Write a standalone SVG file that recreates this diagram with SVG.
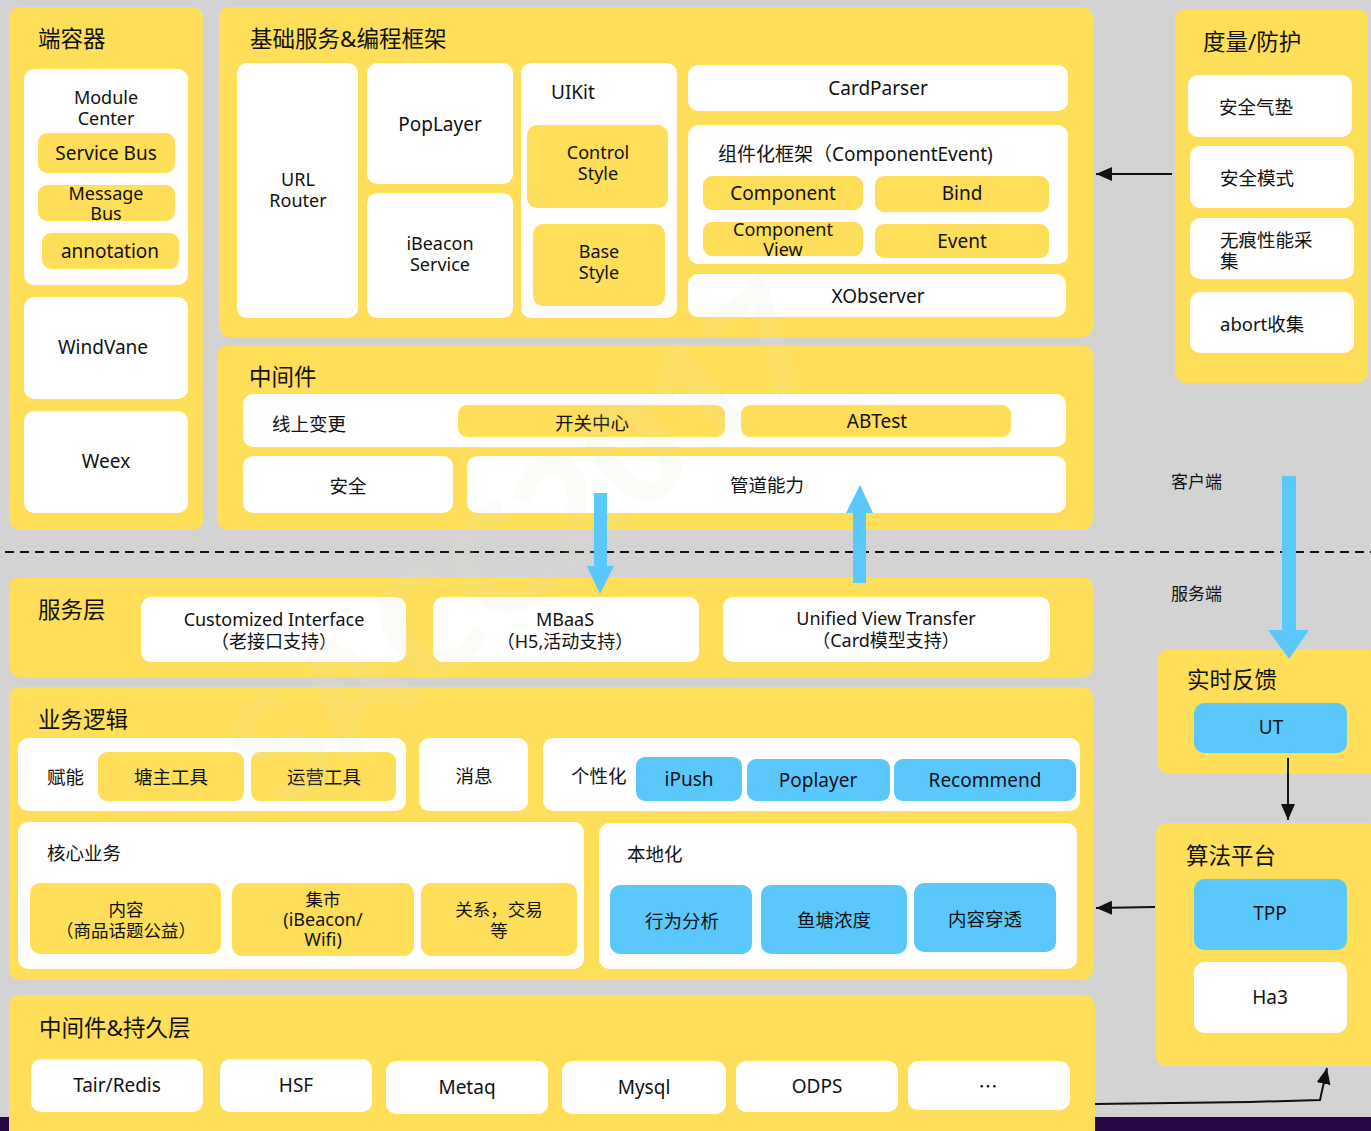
<svg xmlns="http://www.w3.org/2000/svg" width="1371" height="1131" viewBox="0 0 1371 1131">
<style>
.panel{fill:#ffde59}
.wb{fill:#ffffff}
.yb{fill:#ffde59}
.bb{fill:#5bc8fb}
text{font-family:"Noto Sans","Noto Sans CJK SC",sans-serif;fill:#111}
.ti{font-size:22.5px;dominant-baseline:central}
.l{font-size:19px;dominant-baseline:central;text-anchor:middle}
.l2{font-size:18px;dominant-baseline:central;text-anchor:middle}
.ls{font-size:19px;dominant-baseline:central}
.cn{font-size:18.5px;dominant-baseline:central;text-anchor:middle}
.cn2{font-size:17.5px;dominant-baseline:central;text-anchor:middle}
.cns{font-size:18.5px;dominant-baseline:central}
.conn{stroke:#111;stroke-width:2;fill:none}
.blue{fill:#5bc8fb}
</style>
<defs>
<marker id="ah" markerUnits="userSpaceOnUse" markerWidth="18" markerHeight="14" refX="16" refY="7" orient="auto">
<path d="M0,0 L16,7 L0,14 Z" fill="#111"/>
</marker>
</defs>
<rect x="0" y="0" width="1371" height="1131" fill="#d3d3d3"/>
<rect x="0" y="1117" width="1371" height="14" fill="#260741"/>
<line x1="5" y1="552" x2="1371" y2="552" stroke="#111" stroke-width="2" stroke-dasharray="9,6"/>

<g id="container">
<rect class="panel" x="9" y="7" width="194" height="523" rx="10"/>
<text class="ti" x="38" y="38">端容器</text>
<rect class="wb" x="24" y="69" width="164" height="216" rx="10"/>
<text class="l2" x="106" y="97">Module</text>
<text class="l2" x="106" y="118">Center</text>
<rect class="yb" x="38" y="133" width="137" height="40" rx="9"/>
<text class="l" x="106" y="153">Service Bus</text>
<rect class="yb" x="38" y="185" width="137" height="36" rx="9"/>
<text class="l2" x="106" y="193">Message</text>
<text class="l2" x="106" y="213">Bus</text>
<rect class="yb" x="42" y="233" width="137" height="36" rx="9"/>
<text class="l" x="110" y="251">annotation</text>
<rect class="wb" x="24" y="297" width="164" height="102" rx="10"/>
<text class="l" x="103" y="347">WindVane</text>
<rect class="wb" x="24" y="411" width="164" height="102" rx="10"/>
<text class="l" x="106" y="461">Weex</text>
</g>

<g id="framework">
<rect class="panel" x="219" y="7" width="874" height="330" rx="10"/>
<text class="ti" x="250" y="38">基础服务&amp;编程框架</text>
<rect class="wb" x="237" y="63" width="121" height="255" rx="10"/>
<text class="l2" x="298" y="179">URL</text>
<text class="l2" x="298" y="200">Router</text>
<rect class="wb" x="367" y="63" width="146" height="121" rx="10"/>
<text class="l" x="440" y="124">PopLayer</text>
<rect class="wb" x="367" y="193" width="146" height="125" rx="10"/>
<text class="l2" x="440" y="243">iBeacon</text>
<text class="l2" x="440" y="264">Service</text>
<rect class="wb" x="521" y="63" width="156" height="255" rx="10"/>
<text class="ls" x="551" y="92">UIKit</text>
<rect class="yb" x="527" y="125" width="141" height="83" rx="10"/>
<text class="l2" x="598" y="152">Control</text>
<text class="l2" x="598" y="173">Style</text>
<rect class="yb" x="533" y="224" width="132" height="82" rx="10"/>
<text class="l2" x="599" y="251">Base</text>
<text class="l2" x="599" y="272">Style</text>
<rect class="wb" x="688" y="65" width="380" height="46" rx="10"/>
<text class="l" x="878" y="88">CardParser</text>
<rect class="wb" x="688" y="125" width="380" height="139" rx="10"/>
<text class="ls" x="718" y="154">组件化框架（ComponentEvent)</text>
<rect class="yb" x="703" y="176" width="160" height="34" rx="9"/>
<text class="l" x="783" y="193">Component</text>
<rect class="yb" x="875" y="176" width="174" height="36" rx="9"/>
<text class="l" x="962" y="193">Bind</text>
<rect class="yb" x="703" y="222" width="160" height="34" rx="9"/>
<text class="l2" x="783" y="229">Component</text>
<text class="l2" x="783" y="249">View</text>
<rect class="yb" x="875" y="224" width="174" height="34" rx="9"/>
<text class="l" x="962" y="241">Event</text>
<rect class="wb" x="688" y="274" width="378" height="43" rx="10"/>
<text class="l" x="878" y="296">XObserver</text>
</g>

<g id="monitor">
<rect class="panel" x="1175" y="9" width="193" height="374" rx="10"/>
<text class="ti" x="1203" y="41">度量/防护</text>
<rect class="wb" x="1188" y="75" width="164" height="62" rx="10"/>
<text class="cns" x="1219" y="106">安全气垫</text>
<rect class="wb" x="1190" y="146" width="164" height="62" rx="10"/>
<text class="cns" x="1220" y="177">安全模式</text>
<rect class="wb" x="1190" y="218" width="164" height="61" rx="10"/>
<text class="cns" x="1220" y="239">无痕性能采</text>
<text class="cns" x="1220" y="260">集</text>
<rect class="wb" x="1190" y="292" width="164" height="61" rx="10"/>
<text class="cns" x="1220" y="323">abort收集</text>
</g>

<g id="middleware">
<rect class="panel" x="217" y="345" width="876" height="185" rx="10"/>
<text class="ti" x="249" y="376">中间件</text>
<rect class="wb" x="243" y="394" width="823" height="53" rx="10"/>
<text class="cns" x="272" y="423">线上变更</text>
<rect class="yb" x="458" y="405" width="267" height="32" rx="9"/>
<text class="cn" x="592" y="422">开关中心</text>
<rect class="yb" x="741" y="405" width="270" height="32" rx="9"/>
<text class="l" x="877" y="421">ABTest</text>
<rect class="wb" x="243" y="456" width="210" height="57" rx="10"/>
<text class="cn" x="348" y="485">安全</text>
<rect class="wb" x="467" y="456" width="599" height="57" rx="10"/>
<text class="cn" x="767" y="484">管道能力</text>
</g>

<g id="sides">
<text class="cns" x="1171" y="481" style="font-size:17px">客户端</text>
<text class="cns" x="1171" y="593" style="font-size:17px">服务端</text>
</g>

<g id="service">
<rect class="panel" x="9" y="577" width="1084" height="100" rx="10"/>
<text class="ti" x="38" y="609">服务层</text>
<rect class="wb" x="141" y="597" width="265" height="65" rx="10"/>
<text class="l2" x="274" y="619">Customized Interface</text>
<text class="l2" x="274" y="641">（老接口支持）</text>
<rect class="wb" x="433" y="597" width="266" height="65" rx="10"/>
<text class="l2" x="565" y="619">MBaaS</text>
<text class="l2" x="565" y="641">（H5,活动支持）</text>
<rect class="wb" x="723" y="597" width="327" height="65" rx="10"/>
<text class="l2" x="886" y="618">Unified View Transfer</text>
<text class="l2" x="886" y="640">（Card模型支持）</text>
</g>

<g id="business">
<rect class="panel" x="9" y="687" width="1084" height="293" rx="10"/>
<text class="ti" x="38" y="719">业务逻辑</text>
<rect class="wb" x="18" y="738" width="388" height="73" rx="10"/>
<text class="cns" x="47" y="776">赋能</text>
<rect class="yb" x="98" y="752" width="146" height="49" rx="9"/>
<text class="cn" x="171" y="776">塘主工具</text>
<rect class="yb" x="251" y="752" width="145" height="49" rx="9"/>
<text class="cn" x="324" y="776">运营工具</text>
<rect class="wb" x="419" y="738" width="109" height="73" rx="10"/>
<text class="cn" x="474" y="775">消息</text>
<rect class="wb" x="543" y="738" width="537" height="73" rx="10"/>
<text class="cns" x="571" y="775">个性化</text>
<rect class="bb" x="636" y="757" width="106" height="44" rx="9"/>
<text class="l" x="689" y="779">iPush</text>
<rect class="bb" x="747" y="759" width="143" height="42" rx="9"/>
<text class="l" x="818" y="780">Poplayer</text>
<rect class="bb" x="894" y="759" width="182" height="42" rx="9"/>
<text class="l" x="985" y="780">Recommend</text>
<rect class="wb" x="18" y="822" width="566" height="147" rx="10"/>
<text class="cns" x="47" y="852">核心业务</text>
<rect class="yb" x="30" y="883" width="191" height="71" rx="10"/>
<text class="cn2" x="126" y="909">内容</text>
<text class="cn2" x="126" y="930">（商品话题公益）</text>
<rect class="yb" x="232" y="883" width="182" height="73" rx="10"/>
<text class="cn2" x="323" y="899">集市</text>
<text class="l2" x="323" y="919">(iBeacon/</text>
<text class="l2" x="323" y="939">Wifi)</text>
<rect class="yb" x="421" y="883" width="156" height="73" rx="10"/>
<text class="cn2" x="499" y="909">关系，交易</text>
<text class="cn2" x="499" y="930">等</text>
<rect class="wb" x="599" y="823" width="478" height="146" rx="10"/>
<text class="cns" x="627" y="853">本地化</text>
<rect class="bb" x="610" y="885" width="142" height="69" rx="10"/>
<text class="cn" x="682" y="920">行为分析</text>
<rect class="bb" x="761" y="885" width="146" height="69" rx="10"/>
<text class="cn" x="834" y="919">鱼塘浓度</text>
<rect class="bb" x="914" y="883" width="142" height="69" rx="10"/>
<text class="cn" x="985" y="918">内容穿透</text>
</g>

<g id="feedback">
<rect class="panel" x="1158" y="649" width="220" height="125" rx="10"/>
<text class="ti" x="1187" y="679">实时反馈</text>
<rect class="bb" x="1194" y="703" width="153" height="50" rx="10"/>
<text class="l" x="1271" y="727">UT</text>
</g>

<g id="algo">
<rect class="panel" x="1156" y="823" width="222" height="243" rx="10"/>
<text class="ti" x="1186" y="855">算法平台</text>
<rect class="bb" x="1194" y="879" width="153" height="71" rx="10"/>
<text class="l" x="1270" y="913">TPP</text>
<rect class="wb" x="1194" y="962" width="153" height="71" rx="10"/>
<text class="l" x="1270" y="997">Ha3</text>
</g>

<g id="persist">
<rect class="panel" x="9" y="995" width="1086" height="145" rx="10"/>
<text class="ti" x="39" y="1027">中间件&amp;持久层</text>
<rect class="wb" x="31" y="1059" width="172" height="53" rx="10"/>
<text class="l" x="117" y="1085">Tair/Redis</text>
<rect class="wb" x="220" y="1059" width="152" height="53" rx="10"/>
<text class="l" x="296" y="1085">HSF</text>
<rect class="wb" x="386" y="1061" width="162" height="53" rx="10"/>
<text class="l" x="467" y="1087">Metaq</text>
<rect class="wb" x="562" y="1061" width="164" height="53" rx="10"/>
<text class="l" x="644" y="1087">Mysql</text>
<rect class="wb" x="736" y="1061" width="162" height="51" rx="10"/>
<text class="l" x="817" y="1086">ODPS</text>
<rect class="wb" x="908" y="1061" width="162" height="49" rx="10"/>
<text class="l" x="988" y="1085" style="font-family:'Noto Sans CJK SC',sans-serif">…</text>
</g>

<g id="watermark" opacity="0.12">
<text x="0" y="0" transform="translate(520,540) rotate(-40)" text-anchor="middle" dominant-baseline="central" style="font-size:150px;font-weight:bold;fill:#e6e0c8;font-family:'Noto Sans',sans-serif">SACC2017</text>
</g>

<g id="connectors">
<line class="conn" x1="1172" y1="174" x2="1096" y2="174" marker-end="url(#ah)"/>
<line class="conn" x1="1288" y1="758" x2="1288" y2="820" marker-end="url(#ah)"/>
<line class="conn" x1="1155" y1="907" x2="1096" y2="908" marker-end="url(#ah)"/>
<polyline class="conn" points="1095,1104 1250,1102 1320,1100 1327,1068" marker-end="url(#ah)"/>
<rect class="blue" x="594" y="493" width="13" height="74"/>
<polygon class="blue" points="587,566 614,566 600,594"/>
<rect class="blue" x="853" y="512" width="13" height="71"/>
<polygon class="blue" points="846,513 873,513 860,485"/>
<rect class="blue" x="1282" y="476" width="14" height="155"/>
<polygon class="blue" points="1268,630 1309,630 1289,659"/>
</g>
</svg>
